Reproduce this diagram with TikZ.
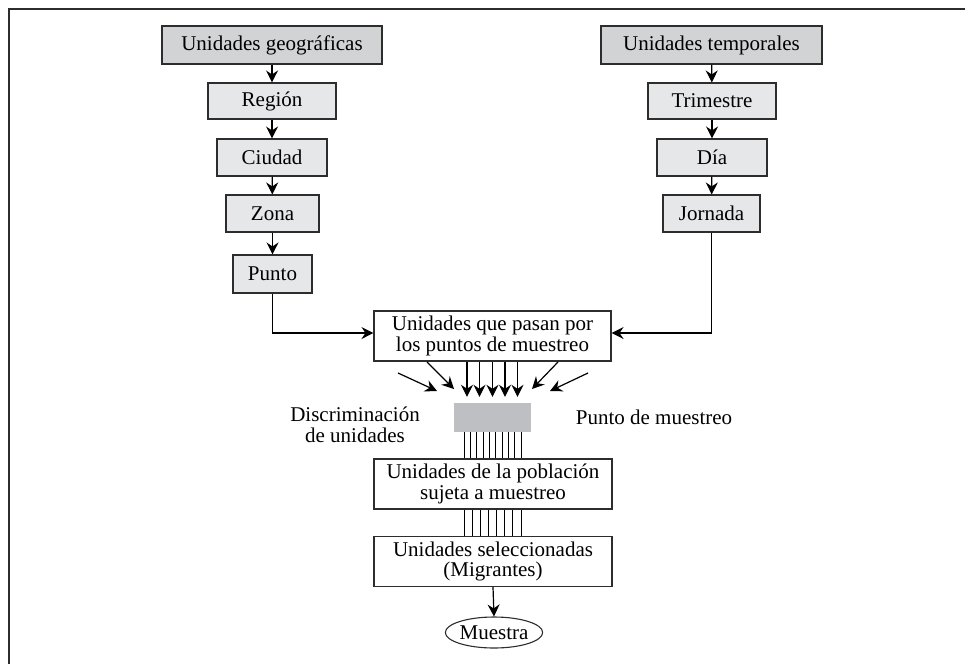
\documentclass[tikz,border=0pt]{standalone}
\usepackage{fontspec}
\setmainfont{Liberation Serif}
\usetikzlibrary{arrows.meta,shapes.geometric,calc}
\definecolor{darkfill}{RGB}{210,211,213}
\definecolor{lightfill}{RGB}{230,231,232}
\definecolor{rectfill}{RGB}{190,191,195}
\definecolor{framecol}{RGB}{45,45,45}
\tikzset{
  box/.style={draw=framecol,line width=1.1pt,inner sep=0pt,align=center,
    font=\fontsize{21}{20.5}\selectfont},
  topbox/.style={box,fill=darkfill},
  subbox/.style={box,fill=lightfill},
  whitebox/.style={box,fill=white},
  arr/.style={line width=1.2pt,draw=black,-{Stealth[length=12pt,width=12pt,inset=4pt]}},
  thin/.style={line width=0.9pt,draw=black},
  lbl/.style={align=center,inner sep=0pt,font=\fontsize{21}{20.5}\selectfont}
}
\begin{document}
\begin{tikzpicture}[x=1pt,y=-1pt]
\useasboundingbox (0,0) rectangle (965,664);
% frame
\draw[line width=2pt,draw=framecol] (9,664) -- (9,9) -- (965,9);
% left column
\node[topbox,minimum width=220pt,minimum height=38pt] (geo) at (272,45) {Unidades geográficas};
\node[subbox,minimum width=128pt,minimum height=36pt] (reg) at (272,101) {Región};
\node[subbox,minimum width=110pt,minimum height=37pt] (ciu) at (272,157.5) {Ciudad};
\node[subbox,minimum width=93pt,minimum height=37pt] (zon) at (272.5,213.5) {Zona};
\node[subbox,minimum width=79pt,minimum height=38pt] (pun) at (272.5,274) {Punto};
% right column
\node[topbox,minimum width=221pt,minimum height=38pt] (tem) at (711.5,45) {Unidades temporales};
\node[subbox,minimum width=128pt,minimum height=36pt] (tri) at (712,101) {Trimestre};
\node[subbox,minimum width=110pt,minimum height=37pt] (dia) at (712,157.5) {Día};
\node[subbox,minimum width=97pt,minimum height=37pt] (jor) at (711.5,213.5) {Jornada};
% center
\node[whitebox,minimum width=237pt,minimum height=50pt] (pas) at (492.5,336) {Unidades que pasan por\\los puntos de muestreo};
\node[draw=none,fill=rectfill,minimum width=77pt,minimum height=29pt,inner sep=0pt] (rect) at (492.5,417.5) {};
\node[whitebox,minimum width=238pt,minimum height=50pt] (pob) at (493,484) {Unidades de la población\\sujeta a muestreo};
\node[whitebox,minimum width=238pt,minimum height=50pt] (sel) at (493,561.5) {Unidades seleccionadas\\(Migrantes)};
\node[box,ellipse,minimum width=86pt,minimum height=31pt,fill=white] (mue) at (494,632.5) {Muestra};
% labels
\node[lbl] (disc) at (355,425) {Discriminación\\de unidades};
\node[lbl] (pm) at (654,417) {Punto de muestreo};
% column arrows
\draw[arr] (geo) -- (reg);
\draw[arr] (reg) -- (ciu);
\draw[arr] (ciu) -- (zon);
\draw[arr] (zon) -- (pun);
\draw[arr] (tem) -- (tri);
\draw[arr] (tri) -- (dia);
\draw[arr] (dia) -- (jor);
\draw[arr] (pun.south) |- ([yshift=3pt]pas.west);
\draw[arr] (jor.south) |- ([yshift=3pt]pas.east);
% arrows into sampling point
\foreach \dx in {-25.5,-13,0,12.5,25}
  \draw[arr] ([xshift=\dx pt]pas.south) -- ([xshift=\dx pt,yshift=6pt]rect.north);
\coordinate (lo1) at (398,373); \coordinate (lo2) at (437,391);
\coordinate (li1) at (427,362); \coordinate (li2) at (454,389);
\coordinate (ri1) at (558,362); \coordinate (ri2) at (532,389);
\coordinate (ro1) at (588,373); \coordinate (ro2) at (550,391);
\draw[arr] (lo1) -- (lo2);
\draw[arr] (li1) -- (li2);
\draw[arr] (ri1) -- (ri2);
\draw[arr] (ro1) -- (ro2);
% vertical line bundles
\foreach \i in {0,...,9}
  \draw[thin] ($(rect.south)+(-28.5+6.333*\i,0)$) -- ($(pob.north)+(-29+6.333*\i,0)$);
\foreach \i in {0,...,7}
  \draw[thin] ($(pob.south)+(-29+8.14*\i,0)$) -- ($(sel.north)+(-29+8.14*\i,0)$);
\draw[arr] (sel.south) -- (mue.north);
\end{tikzpicture}
\end{document}
